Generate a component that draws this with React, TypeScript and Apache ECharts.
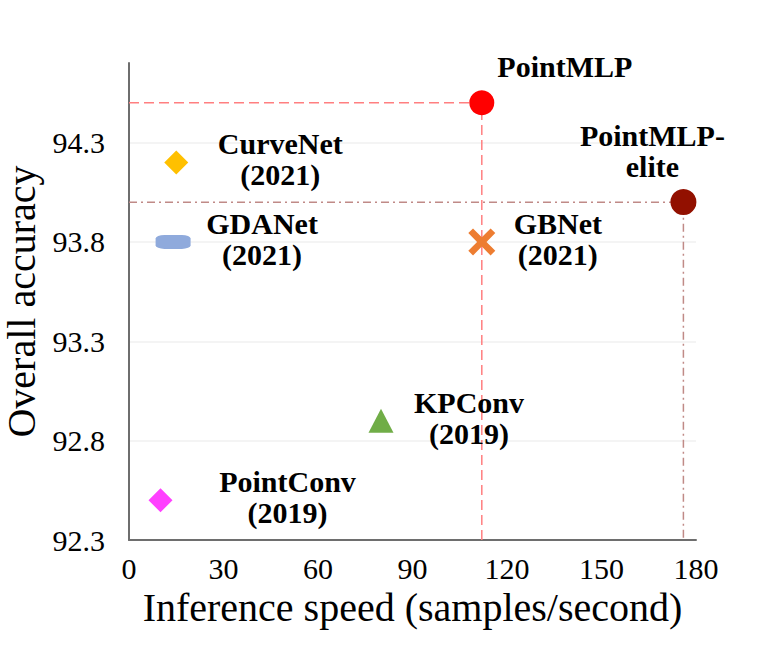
import React, { useEffect, useRef } from "react";
import * as echarts from "echarts";

// ---- data ----
const models = ["PointMLP", "PointMLP-elite", "CurveNet", "GDANet", "GBNet", "KPConv", "PointConv"];
const labelTexts = ["PointMLP", "PointMLP-\nelite", "CurveNet\n(2021)", "GDANet\n(2021)", "GBNet\n(2021)", "KPConv\n(2019)", "PointConv\n(2019)"];
const speed = [112, 176, 15, 14, 112, 80, 10];
const accuracy = [94.5, 94.0, 94.2, 93.8, 93.8, 92.9, 92.5];

const xMin = 0;
const xMax = 180;
const xInterval = 30;
const yMin = 92.3;
const yMax = 94.7;
const yInterval = 0.5;
const yGridValues = [92.8, 93.3, 93.8, 94.3];

// ---- styles ----
const FONT = "Liberation Serif";
const xShape = "path://M0,3.5 L3.5,0 L10,6.5 L16.5,0 L20,3.5 L13.5,10 L20,16.5 L16.5,20 L10,13.5 L3.5,20 L0,16.5 L6.5,10 Z";
const markerStyles: Record<string, { symbol: string; size: number | number[]; color: string; offset: number[] }> = {
  PointMLP: { symbol: "circle", size: 25, color: "#ff0000", offset: [83, -36] },
  "PointMLP-elite": { symbol: "circle", size: 26, color: "#921000", offset: [-31, -51] },
  CurveNet: { symbol: "diamond", size: 24, color: "#ffc000", offset: [104, -3] },
  GDANet: { symbol: "roundRect", size: [35, 14], color: "#8faadc", offset: [89, -3] },
  GBNet: { symbol: xShape, size: 27, color: "#ed7d31", offset: [76, -3] },
  KPConv: { symbol: "triangle", size: [25, 24], color: "#70ad47", offset: [88, -3] },
  PointConv: { symbol: "diamond", size: 24, color: "#ff40ff", offset: [127, -3] },
};
const guideLines = [
  { model: "PointMLP", color: "#ff7f80", type: [10, 5] as number[] },
  { model: "PointMLP-elite", color: "#c08a87", type: [8, 4, 2, 4] as number[] },
];

const toY = (v: number) => +(v - yMin).toFixed(4);

export default function App() {
  const ref = useRef<HTMLDivElement>(null);
  useEffect(() => {
    if (!ref.current) return;
    const chart = echarts.init(ref.current, undefined, { renderer: "svg" });

    const lineSeries: any[] = guideLines.map((g, gi) => {
      const i = models.indexOf(g.model);
      const y = toY(accuracy[i]);
      const x = speed[i];
      const s: any = {
        type: "line",
        data: [[xMin, y], [x, y], [x, 0]],
        symbol: "none",
        silent: true,
        z: 1,
        lineStyle: { color: g.color, width: 1.5, type: g.type },
      };
      if (gi === 0) {
        s.markLine = {
          silent: true,
          symbol: "none",
          label: { show: false },
          lineStyle: { color: "#f0f0f0", width: 1.5, type: "solid" },
          data: yGridValues.map((v) => ({ yAxis: toY(v) })),
          z: 0,
        };
      }
      return s;
    });

    const pointSeries = models.map((m, i) => {
      const st = markerStyles[m];
      return {
        type: "scatter",
        name: m,
        z: 3,
        symbol: st.symbol,
        symbolSize: st.size,
        itemStyle: { color: st.color, opacity: 1 },
        data: [[speed[i], toY(accuracy[i])]],
        label: {
          show: true,
          formatter: labelTexts[i],
          position: "inside",
          offset: st.offset,
          align: "center",
          verticalAlign: "middle",
          fontFamily: FONT,
          fontWeight: "bold",
          fontSize: 30,
          lineHeight: 31,
          color: "#000",
        },
      };
    });

    chart.setOption({
      animation: false,
      backgroundColor: "#fff",
      textStyle: { fontFamily: FONT },
      grid: { left: 129, right: 78, top: 63, bottom: 116, containLabel: false, outerBoundsMode: "none" },
      xAxis: {
        type: "value",
        min: xMin,
        max: xMax,
        interval: xInterval,
        name: "Inference speed (samples/second)",
        nameLocation: "middle",
        nameGap: 46,
        nameTextStyle: { fontFamily: FONT, fontSize: 40, color: "#000" },
        axisLine: { show: true, onZero: false, lineStyle: { color: "#6e6e6e", width: 2 } },
        axisTick: { show: false },
        splitLine: { show: false },
        axisLabel: { fontFamily: FONT, fontSize: 30, color: "#000", margin: 13 },
      },
      yAxis: {
        type: "value",
        min: 0,
        max: toY(yMax),
        interval: yInterval,
        name: "Overall accuracy",
        nameLocation: "middle",
        nameGap: 84,
        nameTextStyle: { fontFamily: FONT, fontSize: 40, color: "#000" },
        axisLine: { show: true, onZero: false, lineStyle: { color: "#6e6e6e", width: 2 } },
        axisTick: { show: false },
        splitLine: { show: false },
        axisLabel: {
          fontFamily: FONT,
          fontSize: 30,
          color: "#000",
          margin: 24,
          showMaxLabel: false,
          formatter: (v: number) => (v + yMin).toFixed(1),
        },
      },
      series: [...lineSeries, ...pointSeries],
    });

    return () => chart.dispose();
  }, []);
  return <div ref={ref} style={{ position: "fixed", left: 0, top: 0, width: 774, height: 656 }} />;
}
